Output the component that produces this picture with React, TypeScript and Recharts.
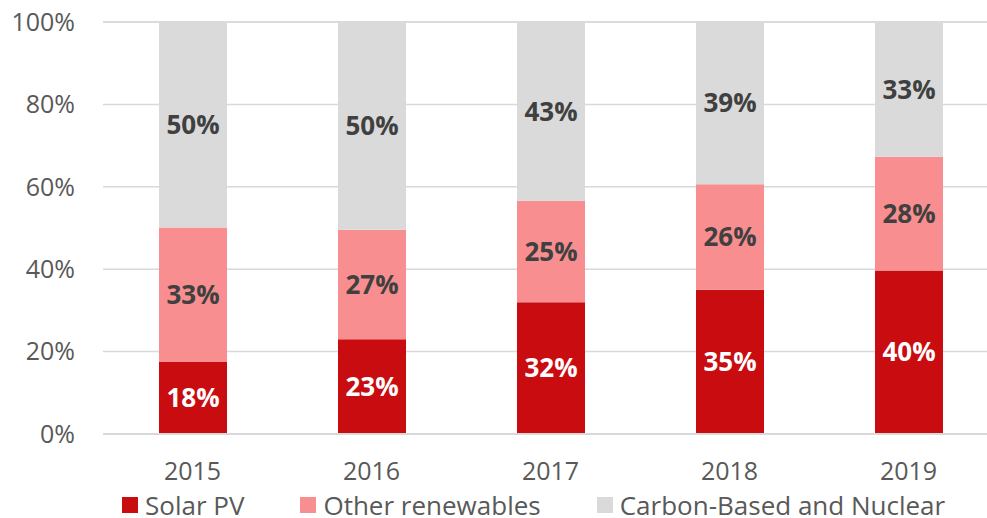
import { BarChart, Bar, XAxis, YAxis, CartesianGrid, Legend, LabelList } from "recharts";

const years = ["2015", "2016", "2017", "2018", "2019"];
const solarPv = [17.5, 23, 32, 35, 39.7];
const otherRenewables = [32.6, 26.6, 24.6, 25.6, 27.6];
const carbonNuclear = [49.9, 50.4, 43.4, 39.4, 32.7];
const yTicks = [0, 20, 40, 60, 80, 100];

const series = [
  { key: "solar", name: "Solar PV", color: "#C80C10", labelColor: "#FFFFFF" },
  { key: "other", name: "Other renewables", color: "#F88E8F", labelColor: "#404040" },
  { key: "carbon", name: "Carbon-Based and Nuclear", color: "#DADADA", labelColor: "#404040" },
];

const data = years.map((year, i) => ({
  year,
  solar: solarPv[i],
  other: otherRenewables[i],
  carbon: carbonNuclear[i],
}));

const FONT = "'Open Sans', sans-serif";

function LegendContent() {
  return (
    <div
      style={{
        display: "flex",
        paddingLeft: 122,
        paddingTop: 9,
        fontFamily: FONT,
        fontSize: 26,
        color: "#595959",
        whiteSpace: "nowrap",
        width: 1000,
      }}
    >
      {series.map((s) => (
        <div key={s.key} style={{ display: "flex", alignItems: "center", marginRight: 56, flexShrink: 0 }}>
          <span style={{ width: 16, height: 16, background: s.color, display: "inline-block", marginRight: 7 }} />
          <span style={{ lineHeight: "24px" }}>{s.name}</span>
        </div>
      ))}
    </div>
  );
}

export default function App() {
  return (
    <div style={{ position: "absolute", left: 0, top: 0, width: 987, height: 518, overflow: "hidden", background: "#fff" }}>
      <BarChart
        width={1000}
        height={518}
        data={data}
        margin={{ top: 22, right: 2, left: 0, bottom: 0 }}
        barSize={68}
      >
        <CartesianGrid vertical={false} stroke="#D9D9D9" strokeWidth={1.5} />
        <XAxis
          dataKey="year"
          tickLine={false}
          tickSize={0}
          tickMargin={28}
          axisLine={{ stroke: "#D9D9D9", strokeWidth: 2 }}
          tick={{ fontSize: 25, fill: "#595959", fontFamily: FONT }}
          height={50}
        />
        <YAxis
          domain={[0, 100]}
          ticks={yTicks}
          tickFormatter={(v) => `${v}%`}
          tickLine={false}
          tickSize={0}
          tickMargin={28}
          axisLine={false}
          tick={{ fontSize: 25, fill: "#595959", fontFamily: FONT }}
          width={103}
        />
        <Legend verticalAlign="bottom" height={34} content={<LegendContent />} />
        {series.map((s) => (
          <Bar key={s.key} dataKey={s.key} name={s.name} stackId="a" fill={s.color} isAnimationActive={false}>
            <LabelList
              dataKey={s.key}
              position="center"
              formatter={(v: number) => `${Math.round(v)}%`}
              style={{ fill: s.labelColor, fontSize: 26, fontWeight: 700, fontFamily: FONT }}
            />
          </Bar>
        ))}
      </BarChart>
    </div>
  );
}
